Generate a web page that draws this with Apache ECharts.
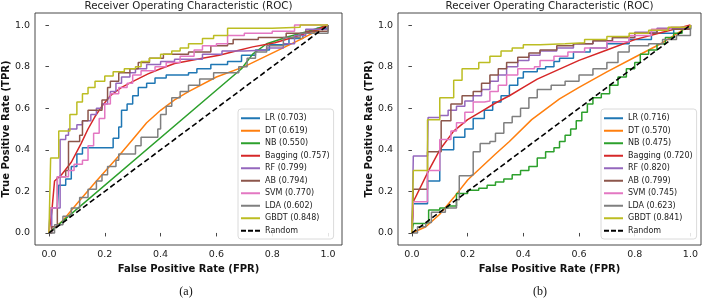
<!DOCTYPE html>
<html><head><meta charset="utf-8">
<script src="https://cdn.jsdelivr.net/npm/echarts@6/dist/echarts.min.js"></script>
<style>html,body{margin:0;padding:0;background:#fff}#c{width:707px;height:299px}</style>
</head><body><div id="c"></div>
<script>
// ---- data ----
const tickValues = [0, 0.2, 0.4, 0.6, 0.8, 1.0];
const modelNames = ['LR', 'DT', 'NB', 'Bagging', 'RF', 'AB', 'SVM', 'LDA', 'GBDT'];
const aucA = ['0.703', '0.619', '0.550', '0.757', '0.799', '0.794', '0.770', '0.602', '0.848'];
const aucB = ['0.716', '0.570', '0.475', '0.720', '0.820', '0.799', '0.745', '0.623', '0.841'];
const panelTitle = 'Receiver Operating Characteristic (ROC)';
const xName = 'False Positive Rate (FPR)';
const yName = 'True Positive Rate (TPR)';
const captions = ['(a)', '(b)'];
const randomName = 'Random';
const randomLine = [[0, 0], [1, 1]];

// panel (a) curves [fpr, tpr]
const LR_a = [[0,0],[0.005,0.12],[0.03,0.12],[0.035,0.23],[0.06,0.26],[0.08,0.32],[0.10,0.38],[0.12,0.41],[0.21,0.41],[0.23,0.455],[0.25,0.51],[0.26,0.59],[0.28,0.62],[0.30,0.66],[0.32,0.70],[0.35,0.72],[0.38,0.745],[0.42,0.76],[0.50,0.77],[0.53,0.79],[0.58,0.81],[0.64,0.825],[0.69,0.855],[0.74,0.88],[0.79,0.905],[0.86,0.935],[0.91,0.96],[0.96,0.985],[1,1]];
const DT_a = [[0,0],[0.05,0.06],[0.1,0.14],[0.17,0.25],[0.25,0.37],[0.30,0.45],[0.35,0.53],[0.40,0.59],[0.45,0.64],[0.5,0.68],[0.6,0.75],[0.7,0.80],[0.8,0.865],[0.9,0.93],[1,1]];
const NB_a = [[0,0],[0.69,0.79],[0.73,0.86],[0.78,0.91],[0.86,0.945],[0.93,0.97],[1,1]];
const Bagging_a = [[0,0],[0.01,0.10],[0.02,0.25],[0.045,0.28],[0.08,0.34],[0.115,0.43],[0.14,0.50],[0.165,0.56],[0.19,0.61],[0.22,0.66],[0.26,0.70],[0.31,0.735],[0.355,0.765],[0.40,0.79],[0.45,0.815],[0.55,0.84],[0.61,0.855],[0.67,0.875],[0.73,0.895],[0.81,0.915],[0.885,0.945],[0.955,0.975],[1,1]];
const RF_a = [[0,0],[0.01,0.12],[0.04,0.45],[0.06,0.47],[0.07,0.50],[0.10,0.52],[0.12,0.54],[0.15,0.57],[0.17,0.60],[0.19,0.62],[0.21,0.65],[0.22,0.68],[0.24,0.72],[0.26,0.75],[0.29,0.77],[0.31,0.79],[0.35,0.81],[0.40,0.825],[0.45,0.835],[0.55,0.86],[0.62,0.875],[0.70,0.88],[0.78,0.89],[0.84,0.91],[0.88,0.95],[0.92,0.98],[1,1]];
const AB_a = [[0,0],[0.01,0.03],[0.03,0.27],[0.06,0.30],[0.07,0.44],[0.11,0.47],[0.12,0.54],[0.14,0.59],[0.19,0.64],[0.21,0.70],[0.22,0.73],[0.25,0.77],[0.29,0.79],[0.32,0.82],[0.36,0.84],[0.41,0.86],[0.50,0.87],[0.58,0.90],[0.64,0.91],[0.66,0.93],[0.75,0.94],[0.85,0.96],[0.92,0.97],[1,1]];
const SVM_a = [[0,0],[0.005,0.12],[0.03,0.27],[0.07,0.30],[0.09,0.33],[0.12,0.35],[0.14,0.42],[0.16,0.48],[0.18,0.55],[0.20,0.62],[0.22,0.67],[0.25,0.70],[0.28,0.72],[0.30,0.76],[0.33,0.78],[0.38,0.80],[0.42,0.82],[0.47,0.85],[0.52,0.88],[0.55,0.90],[0.60,0.91],[0.64,0.95],[0.70,0.96],[0.80,0.97],[0.88,1.0],[1,1]];
const LDA_a = [[0,0],[0.02,0.04],[0.05,0.08],[0.08,0.12],[0.11,0.17],[0.14,0.21],[0.17,0.25],[0.19,0.28],[0.21,0.32],[0.24,0.35],[0.25,0.38],[0.29,0.38],[0.31,0.42],[0.33,0.46],[0.38,0.46],[0.39,0.50],[0.40,0.57],[0.42,0.61],[0.44,0.65],[0.47,0.68],[0.50,0.71],[0.54,0.74],[0.59,0.77],[0.66,0.77],[0.68,0.80],[0.71,0.84],[0.74,0.87],[0.78,0.90],[0.84,0.94],[0.90,0.96],[0.95,0.96],[1,1]];
const GBDT_a = [[0,0],[0.006,0.36],[0.035,0.49],[0.075,0.57],[0.10,0.63],[0.12,0.67],[0.14,0.70],[0.165,0.73],[0.20,0.755],[0.23,0.775],[0.27,0.79],[0.31,0.80],[0.33,0.825],[0.36,0.84],[0.40,0.86],[0.44,0.875],[0.47,0.89],[0.50,0.91],[0.55,0.935],[0.59,0.95],[0.64,0.985],[0.8,0.99],[0.9,1.0],[1,1]];

// panel (b) curves [fpr, tpr]
const LR_b = [[0,0],[0.005,0.14],[0.056,0.25],[0.10,0.40],[0.15,0.46],[0.19,0.50],[0.22,0.55],[0.26,0.59],[0.29,0.63],[0.32,0.66],[0.35,0.71],[0.38,0.745],[0.40,0.775],[0.45,0.79],[0.48,0.80],[0.51,0.825],[0.53,0.84],[0.58,0.87],[0.64,0.89],[0.70,0.91],[0.78,0.93],[0.86,0.96],[0.94,0.98],[1,1]];
const DT_b = [[0,0],[0.05,0.03],[0.1,0.09],[0.15,0.17],[0.2,0.255],[0.3,0.38],[0.35,0.44],[0.43,0.545],[0.53,0.645],[0.6,0.70],[0.7,0.775],[0.8,0.845],[0.9,0.915],[1,1]];
const NB_b = [[0,0],[0.005,0.045],[0.05,0.05],[0.06,0.11],[0.10,0.12],[0.13,0.13],[0.16,0.19],[0.20,0.205],[0.24,0.215],[0.27,0.23],[0.30,0.245],[0.33,0.26],[0.36,0.28],[0.39,0.30],[0.42,0.32],[0.45,0.36],[0.48,0.39],[0.51,0.41],[0.53,0.44],[0.55,0.47],[0.57,0.50],[0.59,0.54],[0.61,0.58],[0.63,0.62],[0.65,0.65],[0.68,0.67],[0.71,0.71],[0.74,0.75],[0.77,0.79],[0.80,0.82],[0.82,0.86],[0.85,0.88],[0.88,0.91],[0.91,0.94],[0.94,0.96],[0.97,0.98],[1,1]];
const Bagging_b = [[0,0],[0.005,0.15],[0.06,0.30],[0.10,0.40],[0.15,0.49],[0.2,0.545],[0.25,0.585],[0.3,0.625],[0.35,0.66],[0.4,0.70],[0.45,0.74],[0.5,0.77],[0.55,0.80],[0.6,0.83],[0.7,0.88],[0.8,0.93],[0.9,0.965],[1,1]];
const RF_b = [[0,0],[0.005,0.37],[0.056,0.38],[0.058,0.555],[0.10,0.565],[0.13,0.59],[0.16,0.61],[0.19,0.635],[0.22,0.66],[0.25,0.69],[0.28,0.73],[0.31,0.76],[0.34,0.80],[0.38,0.83],[0.42,0.855],[0.46,0.875],[0.52,0.89],[0.58,0.91],[0.65,0.925],[0.72,0.94],[0.80,0.965],[0.88,0.985],[1,1]];
const AB_b = [[0,0],[0.005,0.21],[0.056,0.39],[0.105,0.54],[0.14,0.62],[0.18,0.66],[0.22,0.68],[0.25,0.72],[0.28,0.76],[0.31,0.79],[0.34,0.82],[0.38,0.845],[0.42,0.865],[0.46,0.88],[0.52,0.9],[0.58,0.91],[0.65,0.925],[0.72,0.94],[0.80,0.96],[0.88,0.98],[1,1]];
const SVM_b = [[0,0],[0.005,0.15],[0.056,0.30],[0.10,0.45],[0.14,0.49],[0.16,0.53],[0.19,0.58],[0.22,0.63],[0.26,0.635],[0.28,0.68],[0.31,0.71],[0.34,0.76],[0.38,0.79],[0.44,0.80],[0.46,0.83],[0.51,0.85],[0.56,0.87],[0.62,0.89],[0.70,0.92],[0.78,0.95],[0.86,0.98],[0.93,0.99],[1,1]];
const LDA_b = [[0,0],[0.02,0.03],[0.05,0.05],[0.07,0.10],[0.12,0.12],[0.16,0.16],[0.17,0.275],[0.21,0.28],[0.22,0.39],[0.245,0.43],[0.28,0.44],[0.30,0.48],[0.33,0.53],[0.36,0.56],[0.39,0.60],[0.42,0.65],[0.45,0.69],[0.50,0.71],[0.55,0.73],[0.60,0.76],[0.65,0.79],[0.70,0.82],[0.74,0.87],[0.78,0.90],[0.85,0.91],[0.90,0.93],[0.95,0.95],[1,1]];
const GBDT_b = [[0,0],[0.005,0.30],[0.056,0.545],[0.10,0.65],[0.15,0.735],[0.18,0.79],[0.21,0.79],[0.24,0.82],[0.28,0.85],[0.32,0.875],[0.36,0.89],[0.40,0.905],[0.46,0.91],[0.55,0.915],[0.62,0.93],[0.70,0.945],[0.78,0.96],[0.85,0.975],[0.92,0.99],[1,1]];

// ---- styling / assembly ----
const curvesA = [LR_a, DT_a, NB_a, Bagging_a, RF_a, AB_a, SVM_a, LDA_a, GBDT_a];
const curvesB = [LR_b, DT_b, NB_b, Bagging_b, RF_b, AB_b, SVM_b, LDA_b, GBDT_b];
const stepA = ['end', false, false, false, 'end', 'end', 'end', 'end', 'end'];
const stepB = ['end', false, 'end', false, 'end', 'end', 'end', 'end', 'end'];
const colors = ['#1f77b4', '#ff7f0e', '#2ca02c', '#d62728', '#9467bd', '#8c564b', '#e377c2', '#7f7f7f', '#bcbd22'];
const FONT = 'DejaVu Sans';
const solidIcon = 'path://M0,0H19V2H0Z';
const dashIcon = 'path://M0,0H5V2H0Z M7,0H12V2H7Z M14,0H19V2H14Z';

const panels = [
  { grid: { left: 35, top: 13, width: 307, height: 232 }, xMin: -0.05, xMax: 1.05, curves: curvesA, auc: aucA, step: stepA, legendLeft: 238, titleX: 188.5, capX: 186 },
  { grid: { left: 398, top: 13, width: 303, height: 232 }, xMin: -0.05, xMax: 1.038, curves: curvesB, auc: aucB, step: stepB, legendLeft: 601, titleX: 549.5, capX: 540 }
];

const grids = [], xAxes = [], yAxes = [], series = [], legends = [], titles = [];
panels.forEach((p, pi) => {
  grids.push(Object.assign({ show: true, borderColor: '#333', borderWidth: 0.9, backgroundColor: '#fff' }, p.grid));
  xAxes.push({
    gridIndex: pi, type: 'value', min: p.xMin, max: p.xMax,
    axisLine: { show: false }, splitLine: { show: false },
    axisTick: { show: true, customValues: tickValues, length: 3.5, lineStyle: { color: '#333', width: 0.9 } },
    axisLabel: { customValues: tickValues, formatter: v => v.toFixed(1), fontSize: 9.5, color: '#222', margin: 5, fontFamily: FONT },
    name: xName, nameLocation: 'middle', nameGap: 15,
    nameTextStyle: { fontWeight: 'bold', fontSize: 10, fontFamily: FONT, color: '#111' }
  });
  yAxes.push({
    gridIndex: pi, type: 'value', min: -0.058, max: 1.058,
    axisLine: { show: false }, splitLine: { show: false },
    axisTick: { show: true, customValues: tickValues, length: 3.5, lineStyle: { color: '#333', width: 0.9 } },
    axisLabel: { customValues: tickValues, formatter: v => v.toFixed(1), fontSize: 9.5, color: '#222', margin: 5, fontFamily: FONT },
    name: yName, nameLocation: 'middle', nameGap: 22,
    nameTextStyle: { fontWeight: 'bold', fontSize: 10, fontFamily: FONT, color: '#111' }
  });
  const legendItems = [];
  p.curves.forEach((d, i) => {
    const nm = modelNames[i] + ' (' + p.auc[i] + ')';
    legendItems.push({ name: nm, icon: solidIcon });
    series.push({
      type: 'line', name: nm, xAxisIndex: pi, yAxisIndex: pi, data: d,
      step: p.step[i], symbol: 'none', showSymbol: false, animation: false, silent: true,
      lineStyle: { width: 1.5, color: colors[i] }, itemStyle: { color: colors[i] }
    });
  });
  legendItems.push({ name: randomName, icon: dashIcon });
  series.push({
    type: 'line', name: randomName, xAxisIndex: pi, yAxisIndex: pi, data: randomLine,
    symbol: 'none', showSymbol: false, animation: false, silent: true,
    lineStyle: { width: 1.6, color: '#000', type: [5.5, 3] }, itemStyle: { color: '#000' }
  });
  legends.push({
    data: legendItems, orient: 'vertical', left: p.legendLeft, top: 109, selectedMode: false,
    itemWidth: 19, itemHeight: 2, itemGap: 0,
    padding: [3, 4, 2, 3], borderColor: '#d0d0d0', borderWidth: 0.8, borderRadius: 3,
    backgroundColor: 'rgba(255,255,255,0.85)',
    textStyle: { fontSize: 8, fontFamily: FONT, color: '#222', lineHeight: 12.5 }
  });
  titles.push({ text: panelTitle, left: p.titleX, top: 1.5, padding: 0,
    textStyle: { fontSize: 10.3, fontWeight: 'normal', fontFamily: FONT, color: '#222' } });
  titles.push({ text: captions[pi], left: p.capX, top: 286, padding: 0,
    textStyle: { fontSize: 12, fontWeight: 'normal', fontFamily: 'Liberation Serif', color: '#111' } });
});
titles.forEach(t => { t.textAlign = 'center'; });

const chart = echarts.init(document.getElementById('c'), null, { renderer: 'canvas' });
chart.setOption({
  animation: false,
  backgroundColor: '#fff',
  title: titles,
  grid: grids,
  xAxis: xAxes,
  yAxis: yAxes,
  legend: legends,
  series: series
});
</script></body></html>
